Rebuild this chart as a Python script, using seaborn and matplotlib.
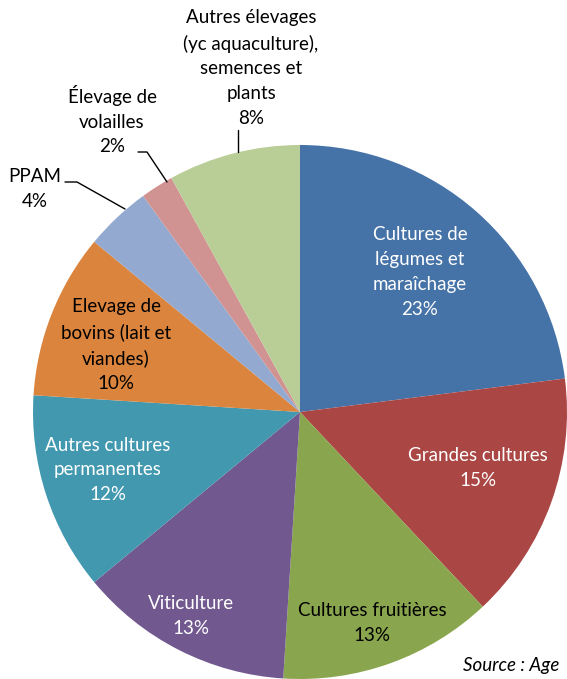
import matplotlib

matplotlib.use("Agg")
import matplotlib.pyplot as plt
import seaborn as sns

sns.set_theme(style="white")
plt.rcParams["font.family"] = ["Lato", "DejaVu Sans"]

# data
categories = [
    "Cultures de\nlégumes et\nmaraîchage",
    "Grandes cultures",
    "Cultures fruitières",
    "Viticulture",
    "Autres cultures\npermanentes",
    "Elevage de\nbovins (lait et\nviandes)",
    "PPAM",
    "Élevage de\nvolailles",
    "Autres élevages\n(yc aquaculture),\nsemences et\nplants",
]
shares = [23, 15, 13, 13, 12, 10, 4, 2, 8]
colors = ["#4572A7", "#AA4643", "#89A54E", "#71588F", "#4198AF",
          "#DB843D", "#93A9CF", "#D19392", "#B9CD96"]

W, H = 567, 679
fig = plt.figure(figsize=(W / 100, H / 100), dpi=100)
ax = fig.add_axes([0, 0, 1, 1])

cx, cy, r = 300, H - 412, 267
ax.pie(shares, colors=colors, startangle=90, counterclock=False,
       center=(cx, cy), radius=r, frame=True,
       wedgeprops={"linewidth": 0})
ax.set_xlim(0, W)
ax.set_ylim(0, H)
ax.set_aspect("equal")
ax.axis("off")

# label anchors (pixel coords from top) and text colour
label_pos = [(420, 272, "white"), (478, 468, "white"), (372, 623, "black"),
             (191, 616, "white"), (108, 470, "white"), (116, 345, "black"),
             (35, 189, "black"), (112, 120, "black"), (251, 68, "black")]

for name, val, (x, y, c) in zip(categories, shares, label_pos):
    ax.text(x, H - y, f"{name}\n{val}%", ha="center", va="center",
            fontsize=13.5, color=c, linespacing=1.55)

# leader lines
ax.plot([65, 77, 125], [H - 182, H - 182, H - 209], color="black", lw=1)
ax.plot([138, 147, 167], [H - 152, H - 152, H - 182], color="black", lw=1)
ax.plot([238, 238], [H - 130, H - 152], color="black", lw=1)

ax.text(463, H - 665, "Source : Age", ha="left", va="center",
        fontsize=13.5, style="italic", color="black")

fig.savefig("out.png", dpi=100)
